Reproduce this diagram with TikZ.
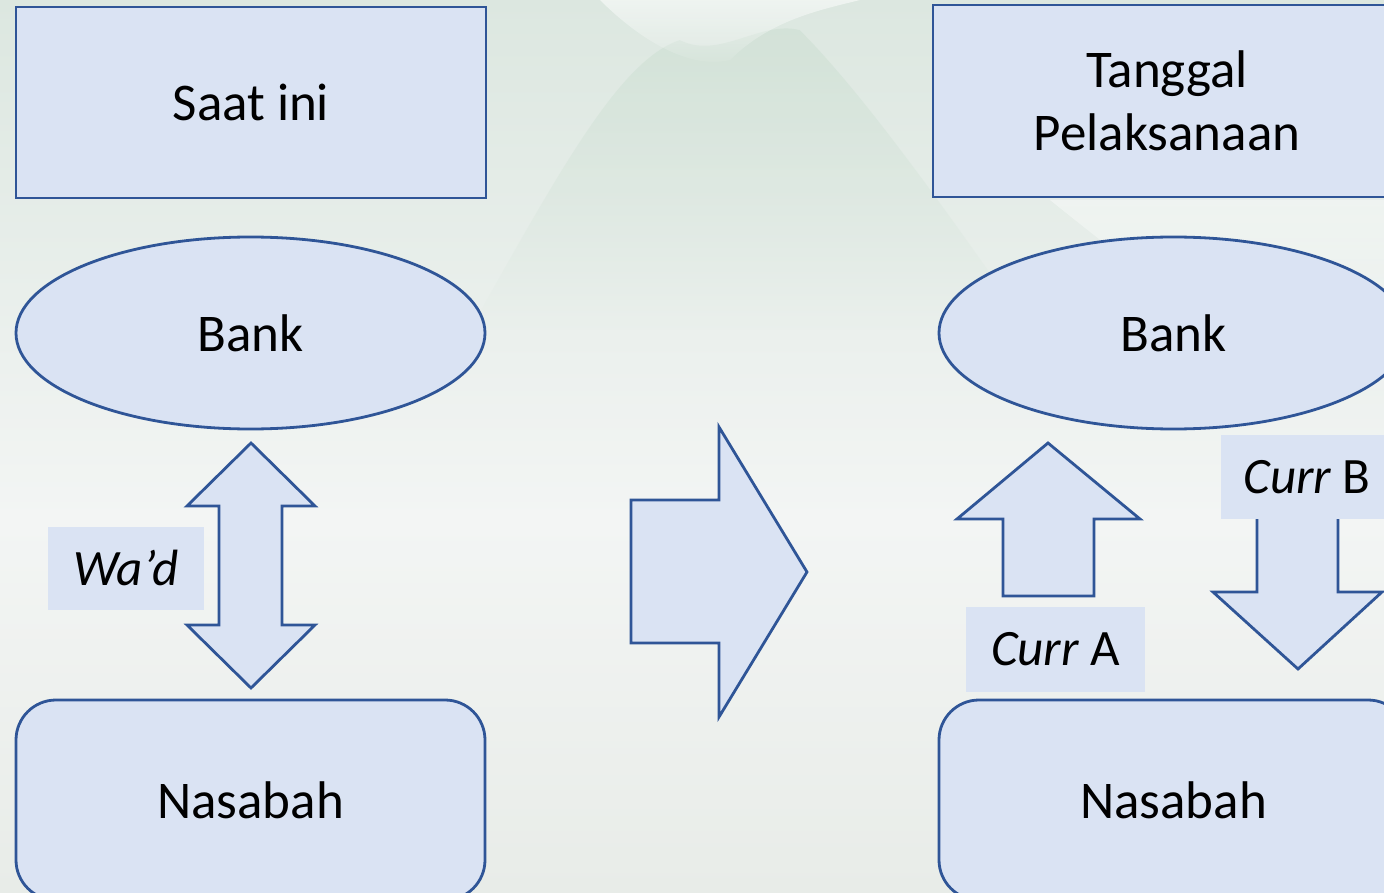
\documentclass[tikz,border=0pt]{standalone}
\usepackage{fontspec}
\setmainfont{Carlito}
\usetikzlibrary{shapes.geometric,fadings}
\definecolor{boxfill}{HTML}{DAE3F3}
\definecolor{boxline}{HTML}{2F5597}
\definecolor{bgtop}{HTML}{DCE7E0}
\definecolor{bgmid}{HTML}{F3F5F4}
\definecolor{bgbot}{HTML}{E8ECE8}
\definecolor{hill}{HTML}{C9DDCF}
\tikzset{
  shapebox/.style={draw=boxline, fill=boxfill, line width=2.8pt, inner sep=0pt, font=\fontsize{53}{63}\selectfont, align=center},
  labelbox/.style={fill=boxfill, inner sep=0pt, font=\fontsize{51}{60}\selectfont},
  blockarrow/.style={draw=boxline, fill=boxfill, line width=2.8pt, line join=miter}
}
\begin{document}
\begin{tikzpicture}[x=1pt,y=-1pt]
\useasboundingbox (0,0) rectangle (1384,893);
\clip (0,0) rectangle (1384,893);
% background
\shade[top color=bgtop, bottom color=bgmid] (0,0) rectangle (1384,520);
\shade[top color=bgmid, bottom color=bgbot] (0,520) rectangle (1384,893);
\fill[hill, opacity=0.5, path fading=south] (470,330) .. controls (560,170) and (620,60) .. (680,40) .. controls (720,60) and (760,20) .. (800,30) .. controls (860,90) and (940,200) .. (1030,330) -- cycle;
\fill[white, opacity=0.55, path fading=south] (600,0) .. controls (640,40) and (690,70) .. (730,60) .. controls (770,20) and (820,10) .. (860,0) -- cycle;
\fill[white, opacity=0.4, path fading=south] (1050,200) .. controls (1150,280) and (1250,360) .. (1384,420) -- (1384,200) -- cycle;

% left column
\node[shapebox, rectangle, minimum width=470pt, minimum height=191pt] (now) at (251,102.5) {Saat ini};
\node[shapebox, ellipse, minimum width=469pt, minimum height=192pt] (bankL) at (250.5,333) {Bank};
\node[shapebox, rectangle, rounded corners=40pt, minimum width=469pt, minimum height=200pt] (nasL) at (250.5,800) {Nasabah};

% double arrow
\draw[blockarrow] (251,443) -- (315,506) -- (282,506) -- (282,625) -- (315,625) -- (251,688) -- (187,625) -- (219,625) -- (219,506) -- (187,506) -- cycle;
\node[labelbox, minimum width=156pt, minimum height=83pt] (wad) at (126,568) {\itshape Wa’d};

% big right arrow
\draw[blockarrow] (631,500) -- (719,500) -- (719,427) -- (807,572) -- (719,717) -- (719,643) -- (631,643) -- cycle;

% right column
\node[shapebox, rectangle, minimum width=468pt, minimum height=192pt] (date) at (1167,101) {Tanggal\\Pelaksanaan};
\node[shapebox, ellipse, minimum width=469pt, minimum height=192pt] (bankR) at (1173.5,333) {Bank};
\node[shapebox, rectangle, rounded corners=40pt, minimum width=469pt, minimum height=200pt] (nasR) at (1173.5,800) {Nasabah};

% up arrow (Curr A)
\draw[blockarrow] (1048,443) -- (1140,519) -- (1094,519) -- (1094,596) -- (1003,596) -- (1003,519) -- (957,519) -- cycle;
\node[labelbox, minimum width=179pt, minimum height=85pt] (currA) at (1055.5,649.5) {\itshape Curr\upshape\ A};

% down arrow (Curr B)
\draw[blockarrow] (1257,480) -- (1257,592) -- (1213,592) -- (1298,669) -- (1382,592) -- (1338,592) -- (1338,480);
\node[labelbox, minimum width=172pt, minimum height=84pt] (currB) at (1307,477) {\itshape Curr\upshape\ B};
\end{tikzpicture}
\end{document}
